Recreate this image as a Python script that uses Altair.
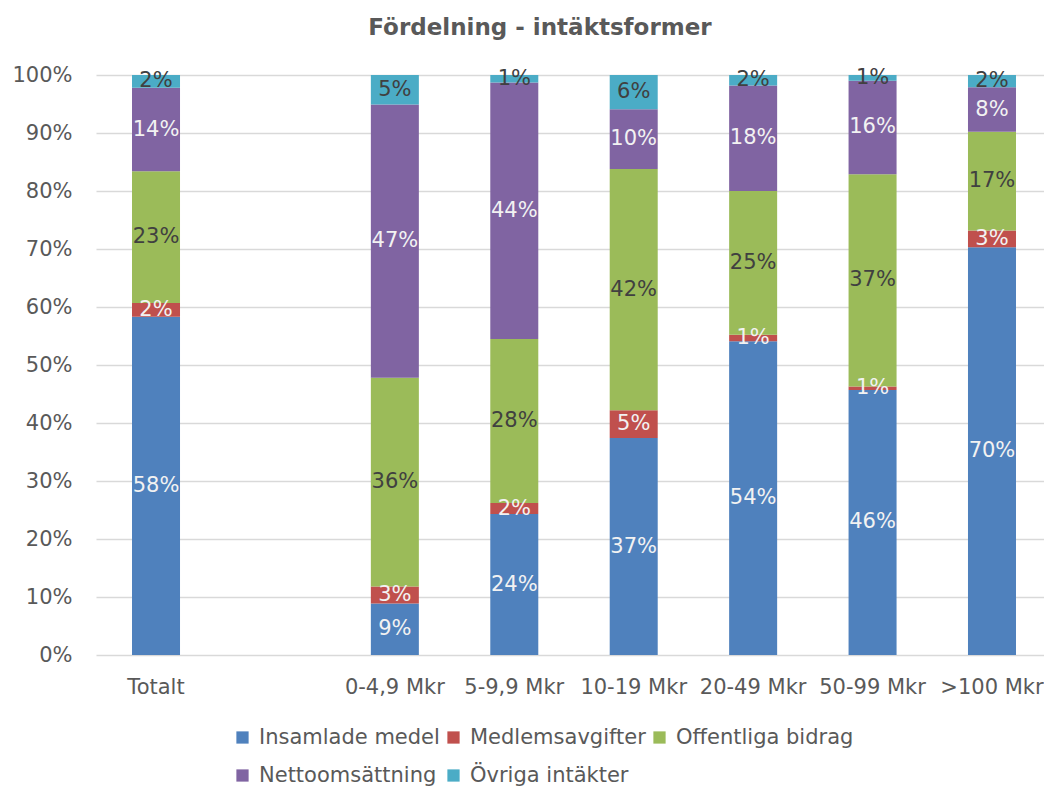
import altair as alt
import pandas as pd

categories = ["Totalt", " ", "0-4,9 Mkr", "5-9,9 Mkr", "10-19 Mkr", "20-49 Mkr", "50-99 Mkr", ">100 Mkr"]
data_categories = ["Totalt", "0-4,9 Mkr", "5-9,9 Mkr", "10-19 Mkr", "20-49 Mkr", "50-99 Mkr", ">100 Mkr"]
series = ["Insamlade medel", "Medlemsavgifter", "Offentliga bidrag", "Nettoomsättning", "Övriga intäkter"]
colors = ["#4F81BD", "#C0504D", "#9BBB59", "#8064A2", "#4BACC6"]

insamlade = [58.3, 8.9, 24.3, 37.4, 54.1, 45.7, 70.3]
medlems = [2.4, 2.9, 1.9, 4.8, 1.1, 0.6, 2.9]
offentliga = [22.7, 36.0, 28.3, 41.6, 24.8, 36.6, 17.0]
netto = [14.4, 47.1, 44.2, 10.3, 18.2, 16.1, 7.7]
ovriga = [2.2, 5.1, 1.3, 5.9, 1.8, 1.0, 2.1]

values = [insamlade, medlems, offentliga, netto, ovriga]
rows = []
for si, (name, vals) in enumerate(zip(series, values)):
    for cat, v in zip(data_categories, vals):
        rows.append({"cat": cat, "series": name, "idx": si, "value": v})
df = pd.DataFrame(rows)

FONT = "DejaVu Sans"
GRAY = "#595959"

base = alt.Chart(df).transform_stack(
    stack="value", as_=["y0", "y1"], groupby=["cat"], sort=[alt.SortField("idx", order="ascending")]
).transform_calculate(
    mid="(datum.y0 + datum.y1) / 2",
    label="format(datum.value / 100, '.0%')",
)

xscale = alt.Scale(domain=categories, range=[0, 956], paddingInner=0.598, paddingOuter=0.3015)

xenc = alt.X(
    "cat:N",
    scale=xscale,
    axis=alt.Axis(title=None, labelAngle=0, ticks=False, domain=False, grid=False,
                  labelFont=FONT, labelFontSize=21, labelColor=GRAY, labelPadding=21),
)

bars = base.mark_bar().encode(
    x=xenc,
    y=alt.Y("y0:Q", scale=alt.Scale(domain=[0, 100], nice=False),
            axis=alt.Axis(title=None, values=list(range(0, 101, 10)), labelExpr="datum.value + '%'",
                          ticks=False, domain=False, grid=True, gridColor="#D9D9D9", gridWidth=1.5,
                          labelFont=FONT, labelFontSize=21, labelColor=GRAY, labelPadding=24)),
    y2="y1:Q",
    color=alt.Color("series:N", scale=alt.Scale(domain=series, range=colors),
                    legend=alt.Legend(title=None, orient="none", legendX=136, legendY=652,
                                      direction="horizontal", columns=3, gridAlign="none",
                                      symbolType="square", symbolSize=150, symbolStrokeWidth=0,
                                      labelFont=FONT, labelFontSize=21, labelColor=GRAY, labelLimit=400,
                                      labelOffset=6, columnPadding=3, rowPadding=16, padding=0)),
    order=alt.Order("idx:Q"),
)

texts = base.mark_text(font=FONT, fontSize=21, baseline="middle", align="center").encode(
    x=alt.X("cat:N", scale=xscale),
    y=alt.Y("mid:Q"),
    text="label:N",
    color=alt.condition("datum.idx == 2 || datum.idx == 4", alt.value("#404040"), alt.value("#F2F2F2")),
)

chart = alt.layer(bars, texts).properties(
    width=948,
    height=580,
    title=alt.Title("Fördelning - intäktsformer", font=FONT, fontSize=23, fontWeight="bold",
                    color=GRAY, anchor="middle", dx=-30, offset=24),
    autosize=alt.AutoSizeParams(type="none"),
    padding={"left": 88, "top": 67, "right": 0, "bottom": 133},
).configure_view(stroke=None)

chart.save("out.html", embed_options={"renderer": "svg", "actions": False})
